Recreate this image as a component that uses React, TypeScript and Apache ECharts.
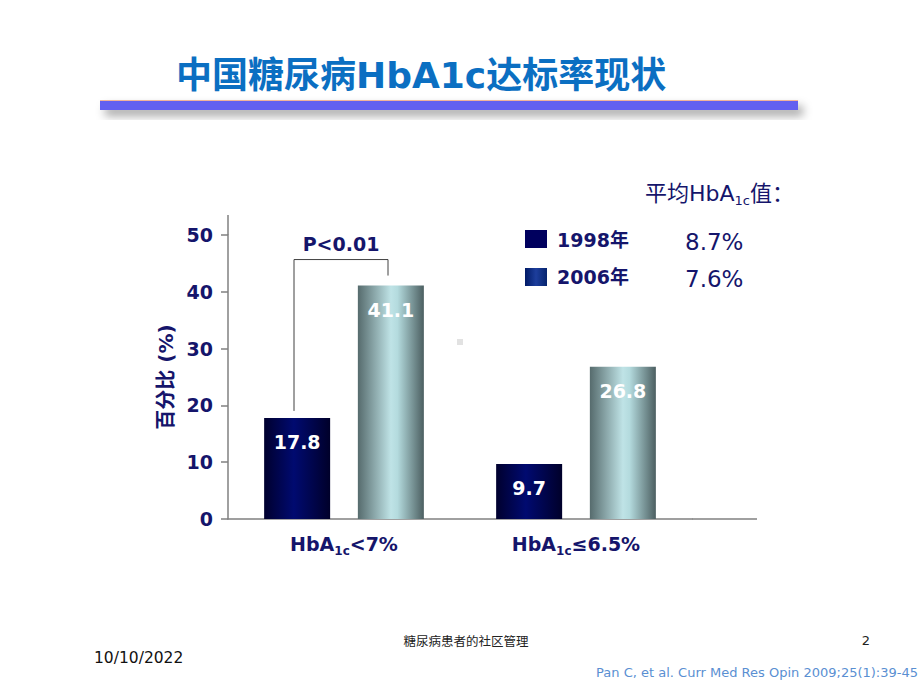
import React, { useEffect, useRef } from "react";
import * as echarts from "echarts";

const categories = ["HbA1c<7%", "HbA1c≤6.5%"];
const seriesNames = ["1998年", "2006年"];
const values1998 = [17.8, 9.7];
const values2006 = [41.1, 26.8];
const meanHbA1c = ["8.7%", "7.6%"];
const yTicks = { min: 0, max: 50, interval: 10 };
const pValueText = "P<0.01";

const NAVY = "#15156b";
const LATIN = '"DejaVu Sans", "Noto Sans CJK SC", sans-serif';

const grad1998 = new echarts.graphic.LinearGradient(0, 0, 1, 0, [
  { offset: 0, color: "#00002e" },
  { offset: 0.45, color: "#000a70" },
  { offset: 1, color: "#00002a" },
]);
const grad2006 = new echarts.graphic.LinearGradient(0, 0, 1, 0, [
  { offset: 0, color: "#566b6d" },
  { offset: 0.5, color: "#bfe3e6" },
  { offset: 0.6, color: "#b4dbde" },
  { offset: 1, color: "#4c5f61" },
]);
const legendGrad2006 = new echarts.graphic.LinearGradient(0, 0, 1, 0, [
  { offset: 0, color: "#001a66" },
  { offset: 0.5, color: "#1d3e9c" },
  { offset: 1, color: "#06246e" },
]);

function catLabel(v: string) {
  const rest = v.replace("HbA1c", "");
  return "{a|HbA}{s|1c}{a|" + rest + "}";
}

export default function App() {
  const ref = useRef<HTMLDivElement>(null);
  useEffect(() => {
    if (!ref.current) return;
    const chart = echarts.init(ref.current, null, { renderer: "svg" });
    const labelStyle = {
      show: true,
      position: "insideTop",
      distance: 15,
      color: "#ffffff",
      fontFamily: LATIN,
      fontWeight: "bold",
      fontSize: 19,
    };
    chart.setOption({
      animation: false,
      backgroundColor: "#ffffff",
      grid: { left: 228, right: 228, top: 235, bottom: 171 },
      xAxis: {
        type: "category",
        data: categories,
        axisLine: { lineStyle: { color: "#808080", width: 1.5 } },
        axisTick: { show: false },
        axisLabel: {
          margin: 12,
          formatter: (v: string) => catLabel(v),
          rich: {
            a: { fontFamily: LATIN, fontWeight: "bold", fontSize: 19, color: NAVY, lineHeight: 26 },
            s: { fontFamily: LATIN, fontWeight: "bold", fontSize: 12, color: NAVY, lineHeight: 12, verticalAlign: "bottom" },
          },
        },
      },
      yAxis: {
        type: "value",
        min: yTicks.min,
        max: yTicks.max,
        interval: yTicks.interval,
        name: "百分比 (%)",
        nameLocation: "middle",
        nameRotate: 90,
        nameGap: 48,
        nameTextStyle: { fontFamily: LATIN, fontWeight: "bold", fontSize: 20, color: NAVY },
        axisLine: { show: true, lineStyle: { color: "#808080", width: 1.5 } },
        axisTick: { show: true, length: 7, lineStyle: { color: "#808080", width: 1.5 } },
        splitLine: { show: false },
        axisLabel: { margin: 15, fontFamily: LATIN, fontWeight: "bold", fontSize: 19, color: NAVY },
      },
      series: [
        {
          name: seriesNames[0],
          type: "bar",
          data: values1998,
          barWidth: 66,
          barGap: "42%",
          itemStyle: { color: grad1998 },
          label: labelStyle,
        },
        {
          name: seriesNames[1],
          type: "bar",
          data: values2006,
          barWidth: 66,
          barGap: "42%",
          itemStyle: { color: grad2006 },
          label: labelStyle,
        },
      ],
    });

    const cx0 = chart.convertToPixel({ xAxisIndex: 0 }, 0) as number;
    const cx1 = chart.convertToPixel({ xAxisIndex: 0 }, 1) as number;
    const y = (v: number) => chart.convertToPixel({ yAxisIndex: 0 }, v) as number;
    const gridLeft = cx0 - (cx1 - cx0) / 2;
    const gridRight = cx1 + (cx1 - cx0) / 2;
    const y0 = y(0);
    const yTop = y(yTicks.max);
    const half = 47;
    const bL = cx0 - half - 3;
    const bR = cx0 + half - 3;
    const bTop = y(values2006[0]) - 26;

    chart.setOption({
      graphic: [
        // title bar
        {
          type: "rect",
          shape: { x: 100, y: 100, width: 698, height: 10 },
          style: {
            fill: "#6461f0",
            shadowBlur: 10,
            shadowOffsetX: 5,
            shadowOffsetY: 6,
            shadowColor: "rgba(0,0,0,0.35)",
          },
        },
        {
          type: "line",
          shape: { x1: 100, y1: 100.5, x2: 798, y2: 100.5 },
          style: { stroke: "#f2b49a", lineWidth: 1 },
        },
        {
          type: "text",
          x: 176,
          y: 75,
          style: {
            text: "中国糖尿病HbA1c达标率现状",
            fontFamily: LATIN,
            fontWeight: "bold",
            fontSize: 36,
            fill: "#0b6fc2",
            verticalAlign: "middle",
          },
        },
        // axis extensions
        {
          type: "line",
          shape: { x1: gridLeft, y1: yTop - 20, x2: gridLeft, y2: yTop },
          style: { stroke: "#808080", lineWidth: 1.5 },
        },
        {
          type: "line",
          shape: { x1: gridRight, y1: y0, x2: gridRight + 65, y2: y0 },
          style: { stroke: "#808080", lineWidth: 1.5 },
        },
        // significance bracket
        {
          type: "polyline",
          shape: {
            points: [
              [bL, y(values1998[0]) - 7],
              [bL, bTop],
              [bR, bTop],
              [bR, y(values2006[0]) - 10],
            ],
          },
          style: { stroke: "#404040", lineWidth: 1, fill: "none" },
        },
        {
          type: "text",
          x: (bL + bR) / 2,
          y: bTop - 16,
          style: {
            text: pValueText,
            fontFamily: LATIN,
            fontWeight: "bold",
            fontSize: 19,
            fill: NAVY,
            align: "center",
            verticalAlign: "middle",
          },
        },
        // legend
        {
          type: "text",
          x: 645,
          y: 193,
          style: {
            text: "{a|平均HbA}{s|1c}{a|值：}",
            verticalAlign: "middle",
            rich: {
              a: { fontFamily: LATIN, fontSize: 22, fill: NAVY, lineHeight: 28 },
              s: { fontFamily: LATIN, fontSize: 13, fill: NAVY, lineHeight: 13, verticalAlign: "bottom" },
            },
          },
        },
        {
          type: "rect",
          shape: { x: 525, y: 230, width: 22, height: 18 },
          style: { fill: "#00005e" },
        },
        {
          type: "rect",
          shape: { x: 525, y: 268, width: 22, height: 18 },
          style: { fill: legendGrad2006 },
        },
        ...seriesNames.map((n, i) => ({
          type: "text",
          x: 557,
          y: 240 + i * 37,
          style: {
            text: n,
            fontFamily: LATIN,
            fontWeight: "bold",
            fontSize: 19,
            fill: NAVY,
            verticalAlign: "middle",
          },
        })),
        ...meanHbA1c.map((m, i) => ({
          type: "text",
          x: 685,
          y: 242 + i * 37,
          style: {
            text: m,
            fontFamily: LATIN,
            fontSize: 23,
            fill: NAVY,
            verticalAlign: "middle",
          },
        })),
        // small grey mark
        {
          type: "rect",
          shape: { x: 457, y: 339, width: 6, height: 6 },
          style: { fill: "#e2e2e2" },
        },
        // footer
        {
          type: "text",
          x: 94,
          y: 658,
          style: { text: "10/10/2022", fontFamily: LATIN, fontSize: 15.5, fill: "#111111", verticalAlign: "middle" },
        },
        {
          type: "text",
          x: 466,
          y: 640,
          style: {
            text: "糖尿病患者的社区管理",
            fontFamily: '"Noto Sans CJK SC", sans-serif',
            fontSize: 12.5,
            fill: "#222222",
            align: "center",
            verticalAlign: "middle",
          },
        },
        {
          type: "text",
          x: 866,
          y: 640,
          style: { text: "2", fontFamily: LATIN, fontSize: 13, fill: "#222222", align: "center", verticalAlign: "middle" },
        },
        {
          type: "text",
          x: 918,
          y: 672,
          style: {
            text: "Pan C, et al. Curr Med Res Opin 2009;25(1):39-45",
            fontFamily: LATIN,
            fontSize: 13,
            fill: "#5a8fd2",
            align: "right",
            verticalAlign: "middle",
          },
        },
      ],
    });
    return () => chart.dispose();
  }, []);
  return (
    <div
      ref={ref}
      style={{ position: "absolute", left: 0, top: 0, width: 920, height: 690, background: "#fff" }}
    />
  );
}
